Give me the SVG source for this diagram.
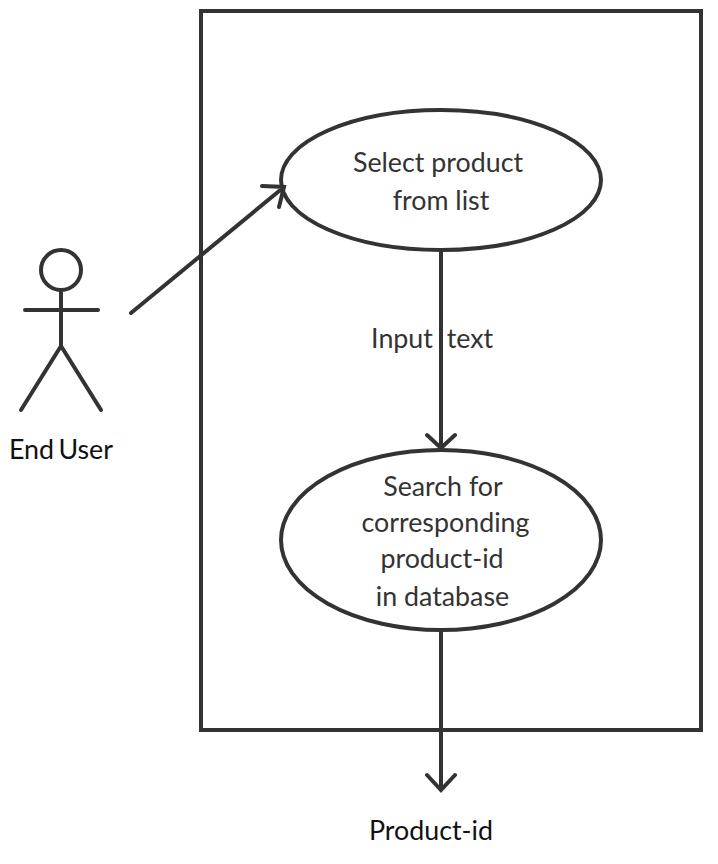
<svg xmlns="http://www.w3.org/2000/svg" width="718" height="864" viewBox="0 0 718 864">
<style>
.s{fill:none;stroke:#333;stroke-width:4;stroke-linecap:round;stroke-linejoin:miter}
.e{fill:#fff;stroke:#333;stroke-width:4}
text{font-family:Lato,sans-serif;font-size:26.8px;fill:#333;text-anchor:middle}
.d{fill:#111}
</style>
<rect width="718" height="864" fill="#fff"/>
<g id="system"><rect x="201" y="11" width="500" height="719" fill="#fff" stroke="#333" stroke-width="4"/></g>
<g id="actor">
<circle class="e" cx="61" cy="270" r="20"/>
<path class="s" d="M61 290V346M25 310H98M61 346L21 410M61 346L101 410"/>
<text class="d" x="61" y="459" word-spacing="-2.500">End User</text>
</g>
<g id="select"><ellipse class="e" cx="441" cy="180" rx="160" ry="70"/>
<text x="438" y="172">Select product</text><text x="441" y="210">from list</text></g>
<g id="search"><ellipse class="e" cx="441" cy="540" rx="160" ry="90"/>
<text x="443" y="496">Search for</text><text x="445.500" y="532">corresponding</text><text x="442" y="568">product-id</text><text x="442.500" y="606">in database</text></g>
<g id="connectors">
<path class="s" d="M131 313L284 187M262 186L284 187L279 207"/>
<path class="s" d="M441 250V448M427 435L441 448L455 435"/>
<path class="s" d="M441 630V790M427 775L441 790L455 775"/>
</g>
<g id="label"><text x="402" y="348">Input</text><text x="470" y="348">text</text></g>
<g id="output"><text class="d" x="431" y="840">Product-id</text></g>
</svg>
